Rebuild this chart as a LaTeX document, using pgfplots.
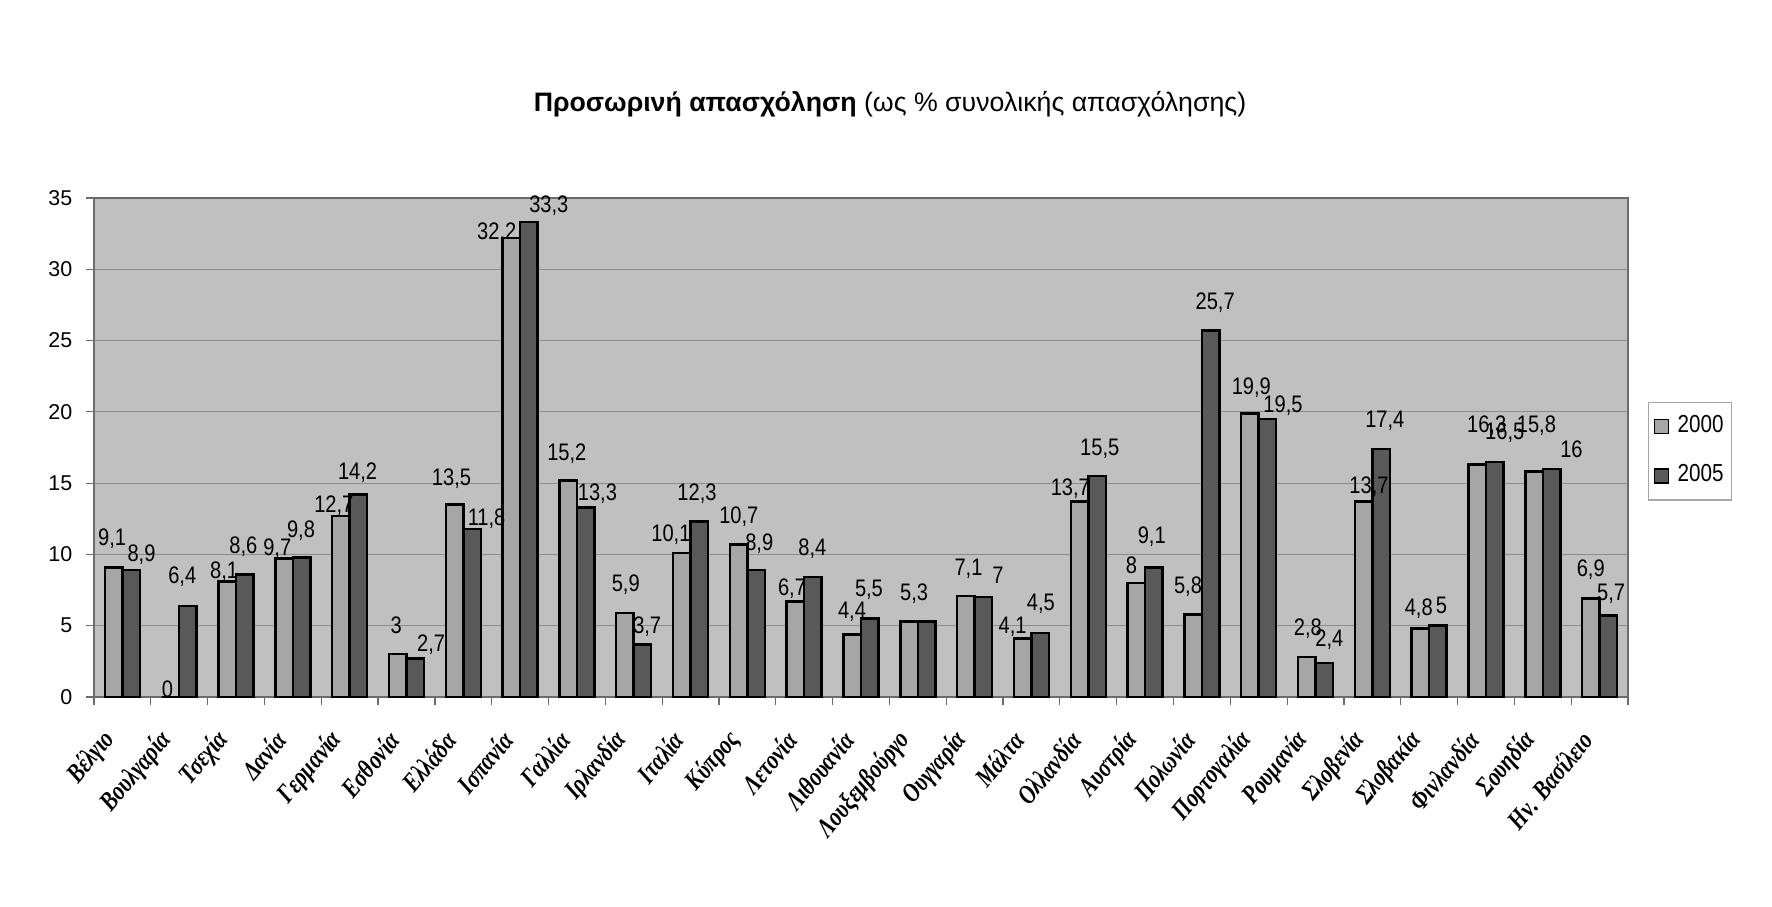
\documentclass[border=0pt]{standalone}
\usepackage{pgfplots}
\pgfplotsset{compat=1.18}
\usepackage{pgfplotstable}
\usepackage{fontspec}
\setmainfont{Liberation Sans}
\newfontfamily\tickfont{Liberation Sans}
\newfontfamily\labfont[FakeStretch=0.84]{Liberation Sans}
\newfontfamily\catfont[FakeStretch=0.8]{Liberation Serif}
\definecolor{plotbg}{HTML}{C0C0C0}
\definecolor{barA}{HTML}{A6A6A6}
\definecolor{barB}{HTML}{595959}
\definecolor{gridc}{HTML}{8C8C8C}

\pgfplotstableread{
x  a     b
0  9.1   8.9
1  0     6.4
2  8.1   8.6
3  9.7   9.8
4  12.7  14.2
5  3     2.7
6  13.5  11.8
7  32.2  33.3
8  15.2  13.3
9  5.9   3.7
10 10.1  12.3
11 10.7  8.9
12 6.7   8.4
13 4.4   5.5
14 5.3   5.3
15 7.1   7
16 4.1   4.5
17 13.7  15.5
18 8     9.1
19 5.8   25.7
20 19.9  19.5
21 2.8   2.4
22 13.7  17.4
23 4.8   5
24 16.3  16.5
25 15.8  16
26 6.9   5.7
}\datatable

\pgfplotstableread{
x       y      lab
-0.181  11.11  {9,1}
0.336   9.95   {8,9}
0.794   0.51   {0}
1.053   8.43   {6,4}
1.790   8.78   {8,1}
2.128   10.53  {8,6}
2.726   10.41  {9,7}
3.144   11.69  {9,8}
3.721   13.44  {12,7}
4.140   15.72  {14,2}
4.817   5.05   {3}
5.434   3.65   {2,7}
5.792   15.33  {13,5}
6.410   12.51  {11,8}
6.589   32.55  {32,2}
7.505   34.45  {33,3}
7.823   17.07  {15,2}
8.361   14.26  {13,3}
8.859   7.85   {5,9}
9.237   4.94   {3,7}
9.655   11.35  {10,1}
10.113  14.26  {12,3}
10.850  12.63  {10,7}
11.209  10.76  {8,9}
11.786  7.62   {6,7}
12.144  10.41  {8,4}
12.841  5.98   {4,4}
13.140  7.50   {5,5}
13.936  7.27   {5,3}
14.892  9.01   {7,1}
15.410  8.55   {7}
15.669  4.94   {4,1}
16.167  6.57   {4,5}
16.684  14.61  {13,7}
17.202  17.38  {15,5}
17.760  9.24   {8}
18.118  11.23  {9,1}
18.755  7.73   {5,8}
19.233  27.65  {25,7}
19.870  21.73  {19,9}
20.428  20.46  {19,5}
20.866  4.82   {2,8}
21.244  4.01   {2,4}
21.941  14.73  {13,7}
22.220  19.36  {17,4}
22.817  6.22   {4,8}
23.216  6.45   {5}
24.012  19.04  {16,3}
24.331  18.57  {16,5}
24.888  19.04  {15,8}
25.505  17.38  {16}
25.844  8.90   {6,9}
26.202  7.27   {5,7}
}\labtable

\begin{document}
\begin{tikzpicture}
\begin{axis}[
  scale only axis,
  width=153.4mm, height=49.9mm,
  xmin=-0.5, xmax=26.5,
  ymin=0, ymax=35,
  ytick={0,5,...,35},
  xtick pos=lower, ytick pos=left,
  axis background/.style={fill=plotbg},
  axis line style={draw=gray!85!black, line width=0.3pt},
  ymajorgrids, grid style={draw=gridc, line width=0.35pt},
  tick align=outside,
  ytick style={draw=gray!85!black, line width=0.35pt},
  major tick length=0.8mm,
  xtick={0,...,26},
  xtick style={draw=none},
  minor xtick={-0.5,0.5,...,26.5},
  minor tick length=0.8mm,
  minor x tick style={draw=gray!85!black, line width=0.35pt},
  /pgf/number format/assume math mode=true,
  yticklabel style={font=\tickfont\fontsize{6.1}{7}\selectfont, inner sep=0pt, xshift=-1.3mm},
  xticklabels={Βέλγιο,Βουλγαρία,Τσεχία,Δανία,Γερμανία,Εσθονία,Ελλάδα,Ισπανία,Γαλλία,Ιρλανδία,Ιταλία,Κύπρος,Λετονία,Λιθουανία,Λουξεμβούργο,Ουγγαρία,Μάλτα,Ολλανδία,Αυστρία,Πολωνία,Πορτογαλία,Ρουμανία,Σλοβενία,Σλοβακία,Φινλανδία,Σουηδία,Ην. Βασίλειο},
  xticklabel style={font=\catfont\bfseries\itshape\fontsize{7.6}{8}\selectfont, inner sep=0pt, xshift=-1.2mm, yshift=-3.0mm, rotate=50, anchor=east},
  legend style={at={(rel axis cs:1.013,0.592)}, anchor=north west,
    draw=gray!70, fill=white, line width=0.4pt,
    font=\labfont\fontsize{7}{8}\selectfont,
    nodes={inner sep=0.3mm},
    /tikz/every odd column/.append style={column sep=0.6mm},
    inner xsep=0.5mm, inner ysep=1.0mm, row sep=2.1mm},
  legend cell align=left,
  legend image code/.code={\draw[#1, draw=black, line width=0.3pt] (0.2mm,-0.7mm) rectangle (1.6mm,0.7mm);},
]
\addplot[ybar, bar width=1.75mm, bar shift=-0.875mm, fill=barA, draw=black, line width=0.25mm] table[x=x, y=a] {\datatable};
\addlegendentry{2000}
\addplot[ybar, bar width=1.75mm, bar shift=0.875mm, fill=barB, draw=black, line width=0.25mm] table[x=x, y=b] {\datatable};
\addlegendentry{2005}
\addplot[draw=none, mark=none, forget plot, nodes near coords, point meta=explicit symbolic,
  every node near coord/.style={anchor=center, inner sep=0pt, font=\labfont\fontsize{6.8}{7}\selectfont}]
  table[x=x, y=y, meta=lab] {\labtable};
\coordinate (sw) at (rel axis cs:0,0);
\coordinate (ne) at (rel axis cs:1,1);
\coordinate (tt) at (rel axis cs:0.5,1);
\end{axis}
\node[anchor=base, inner sep=0pt, font=\fontsize{7.6}{9}\selectfont] at ([xshift=2.9mm, yshift=8.6mm]tt) {\textbf{Προσωρινή απασχόληση} (ως \% συνολικής απασχόλησης)};
\pgfresetboundingbox
\path[use as bounding box] ([xshift=-9.4mm,yshift=-20.9mm]sw) rectangle ([xshift=14.4mm,yshift=19.8mm]ne);
\end{tikzpicture}
\end{document}
